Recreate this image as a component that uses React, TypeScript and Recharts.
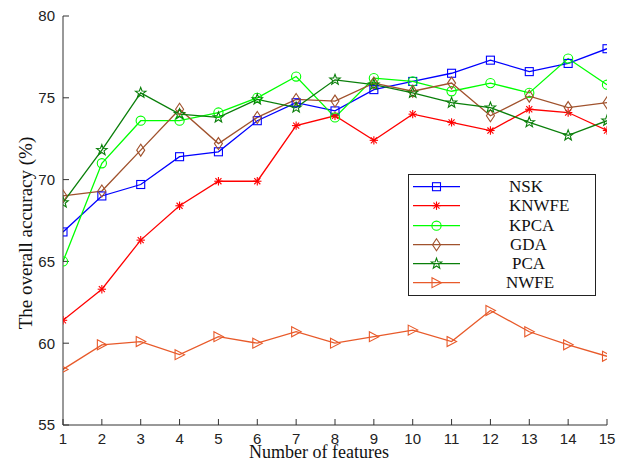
import React from "react";
import { LineChart, Line, XAxis, YAxis, Legend, Label } from "recharts";

const features = [1, 2, 3, 4, 5, 6, 7, 8, 9, 10, 11, 12, 13, 14, 15];
const nsk = [66.8, 69.0, 69.7, 71.4, 71.7, 73.6, 74.7, 74.2, 75.5, 76.0, 76.5, 77.3, 76.6, 77.1, 78.0];
const knwfe = [61.4, 63.3, 66.3, 68.4, 69.9, 69.9, 73.3, 73.9, 72.4, 74.0, 73.5, 73.0, 74.3, 74.1, 73.0];
const kpca = [65.0, 71.0, 73.6, 73.6, 74.1, 75.0, 76.3, 73.8, 76.2, 76.0, 75.4, 75.9, 75.3, 77.4, 75.8];
const gda = [69.0, 69.3, 71.8, 74.3, 72.2, 73.8, 74.9, 74.8, 75.9, 75.4, 75.9, 73.9, 75.1, 74.4, 74.7];
const pca = [68.6, 71.8, 75.3, 74.0, 73.8, 74.9, 74.4, 76.1, 75.8, 75.3, 74.7, 74.4, 73.5, 72.7, 73.6];
const nwfe = [58.4, 59.9, 60.1, 59.3, 60.4, 60.0, 60.7, 60.0, 60.4, 60.8, 60.1, 62.0, 60.7, 59.9, 59.2];
const yTicks = [55, 60, 65, 70, 75, 80];

const data = features.map((f, i) => ({
  f,
  NSK: nsk[i],
  KNWFE: knwfe[i],
  KPCA: kpca[i],
  GDA: gda[i],
  PCA: pca[i],
  NWFE: nwfe[i],
}));

type MarkerKind = "square" | "asterisk" | "circle" | "diamond" | "star" | "triangle";

function markerShape(kind: MarkerKind, cx: number, cy: number, color: string, key?: any) {
  const common = { fill: "none", stroke: color, strokeWidth: 1.1 };
  switch (kind) {
    case "square":
      return <rect key={key} x={cx - 4} y={cy - 4} width={8} height={8} {...common} />;
    case "circle":
      return <circle key={key} cx={cx} cy={cy} r={4.6} {...common} />;
    case "diamond":
      return (
        <polygon
          key={key}
          points={`${cx},${cy - 6} ${cx + 4},${cy} ${cx},${cy + 6} ${cx - 4},${cy}`}
          {...common}
        />
      );
    case "triangle":
      return (
        <polygon
          key={key}
          points={`${cx - 4.5},${cy - 5} ${cx + 5},${cy} ${cx - 4.5},${cy + 5}`}
          {...common}
        />
      );
    case "asterisk": {
      const r = 4.2;
      const d = r * 0.72;
      return (
        <g key={key} stroke={color} strokeWidth={1.1}>
          <line x1={cx - r} y1={cy} x2={cx + r} y2={cy} />
          <line x1={cx} y1={cy - r} x2={cx} y2={cy + r} />
          <line x1={cx - d} y1={cy - d} x2={cx + d} y2={cy + d} />
          <line x1={cx - d} y1={cy + d} x2={cx + d} y2={cy - d} />
        </g>
      );
    }
    case "star": {
      const pts: string[] = [];
      for (let k = 0; k < 10; k++) {
        const rr = k % 2 === 0 ? 5.5 : 2.3;
        const a = -Math.PI / 2 + (k * Math.PI) / 5;
        pts.push(`${cx + rr * Math.cos(a)},${cy + rr * Math.sin(a)}`);
      }
      return <polygon key={key} points={pts.join(" ")} {...common} />;
    }
  }
}

const series: { key: string; color: string; marker: MarkerKind }[] = [
  { key: "NSK", color: "#0000FF", marker: "square" },
  { key: "KNWFE", color: "#FF0000", marker: "asterisk" },
  { key: "KPCA", color: "#00FF00", marker: "circle" },
  { key: "GDA", color: "#A0522D", marker: "diamond" },
  { key: "PCA", color: "#0A7F0A", marker: "star" },
  { key: "NWFE", color: "#E85A2A", marker: "triangle" },
];

const legendTextOffsets: Record<string, number> = {
  NSK: 100,
  KNWFE: 100,
  KPCA: 100,
  GDA: 101,
  PCA: 103,
  NWFE: 97,
};

const LegendBox = () => (
  <div
    style={{
      width: 186,
      height: 118,
      border: "1px solid #222",
      background: "#fff",
      paddingTop: 2,
      boxSizing: "content-box",
    }}
  >
    {series.map((s) => (
      <div key={s.key} style={{ position: "relative", height: 19.3 }}>
        <svg width={60} height={19} style={{ position: "absolute", left: 0, top: 0 }}>
          <line x1={4} y1={9.7} x2={51} y2={9.7} stroke={s.color} strokeWidth={1.3} />
          {markerShape(s.marker, 27.5, 9.7, s.color)}
        </svg>
        <span
          style={{
            position: "absolute",
            left: legendTextOffsets[s.key],
            top: 0,
            lineHeight: "19px",
            fontFamily: "'Liberation Serif', 'Times New Roman', serif",
            fontSize: 17,
            color: "#111",
          }}
        >
          {s.key}
        </span>
      </div>
    ))}
  </div>
);

const tickFont = { fontFamily: "'Liberation Sans', Arial, sans-serif", fontSize: 15, fill: "#222" };

export default function App() {
  return (
    <LineChart
      width={610}
      height={454}
      data={data}
      margin={{ top: 8, right: 11, left: 0, bottom: 0 }}
    >
      <XAxis
        dataKey="f"
        type="number"
        domain={[1, 15]}
        ticks={features}
        interval={0}
        height={37}
        tickSize={-6}
        tickMargin={14}
        tick={tickFont}
        stroke="#333"
        allowDataOverflow
      >
        <Label
          content={() => (
            <text
              x={311}
              y={450}
              textAnchor="middle"
              fontFamily="'Liberation Serif', 'Times New Roman', serif"
              fontSize={18}
              fill="#111"
            >
              Number of features
            </text>
          )}
        />
      </XAxis>
      <XAxis
        xAxisId="top"
        orientation="top"
        type="number"
        domain={[1, 15]}
        ticks={features}
        interval={0}
        height={0}
        tickSize={-6}
        tick={false}
        stroke="#333"
        allowDataOverflow
      />
      <YAxis
        type="number"
        domain={[55, 80]}
        ticks={yTicks}
        interval={0}
        width={55}
        tickSize={-6}
        tickMargin={14}
        tick={tickFont}
        stroke="#333"
        allowDataOverflow
      >
        <Label
          content={() => (
            <text
              x={17}
              y={225}
              transform="rotate(-90 17 225)"
              textAnchor="middle"
              dominantBaseline="central"
              fontFamily="'Liberation Serif', 'Times New Roman', serif"
              fontSize={19}
              fill="#111"
            >
              The overall accuracy (%)
            </text>
          )}
        />
      </YAxis>
      <YAxis
        yAxisId="right"
        orientation="right"
        type="number"
        domain={[55, 80]}
        ticks={yTicks}
        interval={0}
        width={0}
        tickSize={-6}
        tick={false}
        stroke="#333"
        allowDataOverflow
      />
      {series.map((s) => (
        <Line
          key={s.key}
          type="linear"
          dataKey={s.key}
          stroke={s.color}
          strokeWidth={1.3}
          isAnimationActive={false}
          activeDot={false}
          dot={(p: any) => markerShape(s.marker, p.cx, p.cy, s.color, `${s.key}-${p.index}`)}
        />
      ))}
      <Legend
        layout="vertical"
        align="center"
        verticalAlign="middle"
        content={() => <LegendBox />}
        wrapperStyle={{ left: 400, top: 166, width: 188, height: 121 }}
      />
    </LineChart>
  );
}
